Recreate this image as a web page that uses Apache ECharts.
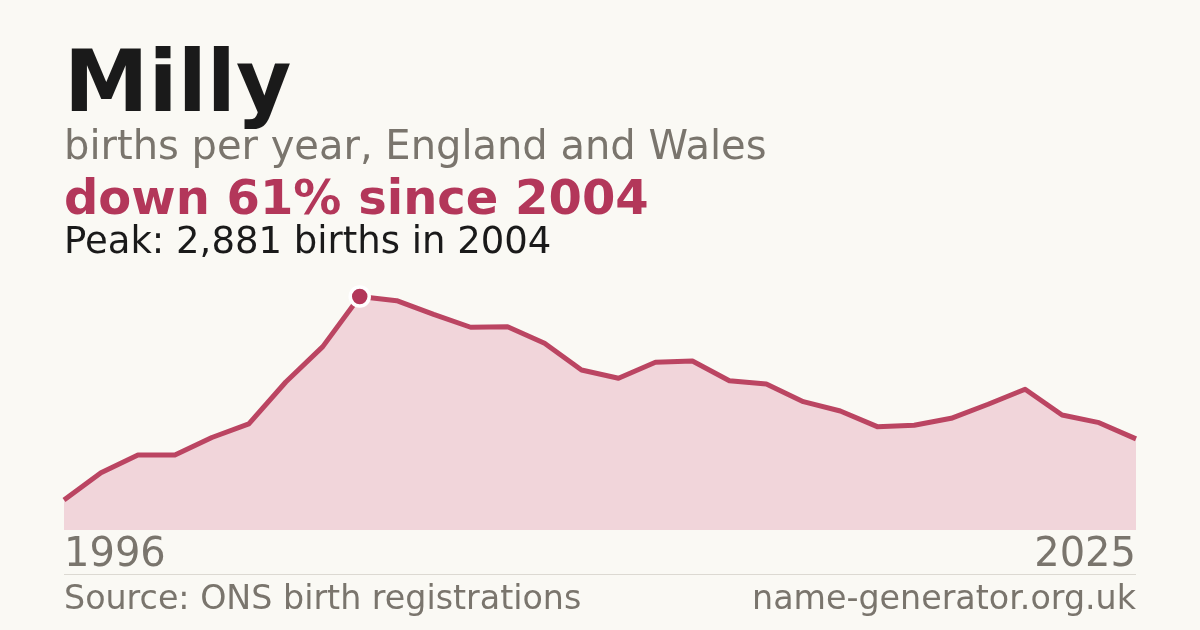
<!DOCTYPE html>
<html>
<head>
<meta charset="utf-8">
<script src="https://cdn.jsdelivr.net/npm/echarts@6/dist/echarts.min.js"></script>
<style>
html,body{margin:0;padding:0;background:#faf9f4;}
#chart{width:1200px;height:630px;}
</style>
</head>
<body>
<div id="chart"></div>
<script>
const years = ['1996','1997','1998','1999','2000','2001','2002','2003','2004','2005','2006','2007','2008','2009','2010','2011','2012','2013','2014','2015','2016','2017','2018','2019','2020','2021','2022','2023','2024','2025'];
const births = [370,707,925,925,1141,1308,1826,2262,2881,2829,2659,2501,2508,2303,1974,1872,2069,2085,1842,1801,1583,1468,1275,1292,1378,1551,1736,1419,1324,1124];
const peakYear = '2004';
const peakValue = 2881;
const titleText = 'Milly';
const subtitleText = 'births per year, England and Wales';
const changeText = 'down 61% since 2004';
const peakText = 'Peak: 2,881 births in 2004';
const sourceText = 'Source: ONS birth registrations';
const siteText = 'name-generator.org.uk';

const FONT = '"DejaVu Sans", sans-serif';
const chart = echarts.init(document.getElementById('chart'), null, {renderer:'canvas'});
chart.setOption({
  backgroundColor: '#faf9f4',
  animation: false,
  grid: {left: 64, right: 64, top: 270.6, bottom: 100, containLabel: false},
  xAxis: {
    type: 'category', data: years, boundaryGap: false,
    axisLine: {show: false}, axisTick: {show: false}, splitLine: {show: false},
    axisLabel: {
      interval: years.length - 2, showMinLabel: true, showMaxLabel: true,
      alignMinLabel: 'left', alignMaxLabel: 'right',
      margin: 6, color: '#7a756d', fontSize: 40, fontFamily: FONT,
      verticalAlign: 'top'
    }
  },
  yAxis: {type: 'value', min: 0, max: 3200, show: false, splitLine: {show: false}},
  series: [{
    type: 'line', data: births, symbol: 'none',
    lineStyle: {color: '#bb4562', width: 5, join: 'round'},
    areaStyle: {color: '#f1d5da', opacity: 1},
    z: 2,
    markPoint: {
      symbol: 'circle', symbolSize: 19,
      itemStyle: {color: '#b3375a', borderColor: '#ffffff', borderWidth: 3.5},
      label: {show: false},
      data: [{coord: [peakYear, peakValue]}]
    }
  }],
  graphic: [
    {type: 'text', left: 64, top: 46.7, style: {text: titleText, font: 'bold 85px ' + FONT, fill: '#1a1a1a'}},
    {type: 'text', left: 64, top: 129, style: {text: subtitleText, font: '40px ' + FONT, fill: '#7a756d'}},
    {type: 'text', left: 64, top: 177.5, style: {text: changeText, font: 'bold 48px ' + FONT, fill: '#b3375a'}},
    {type: 'text', left: 64, top: 224.7, style: {text: peakText, font: '37px ' + FONT, fill: '#1a1a1a'}},
    {type: 'line', shape: {x1: 64, y1: 574.5, x2: 1136, y2: 574.5}, style: {stroke: '#dcd9d2', lineWidth: 1}},
    {type: 'text', left: 64, top: 583.5, style: {text: sourceText, font: '33.3px ' + FONT, fill: '#7a756d'}},
    {type: 'text', right: 64, top: 583.5, style: {text: siteText, font: '33.3px ' + FONT, fill: '#7a756d'}}
  ]
});
</script>
</body>
</html>
